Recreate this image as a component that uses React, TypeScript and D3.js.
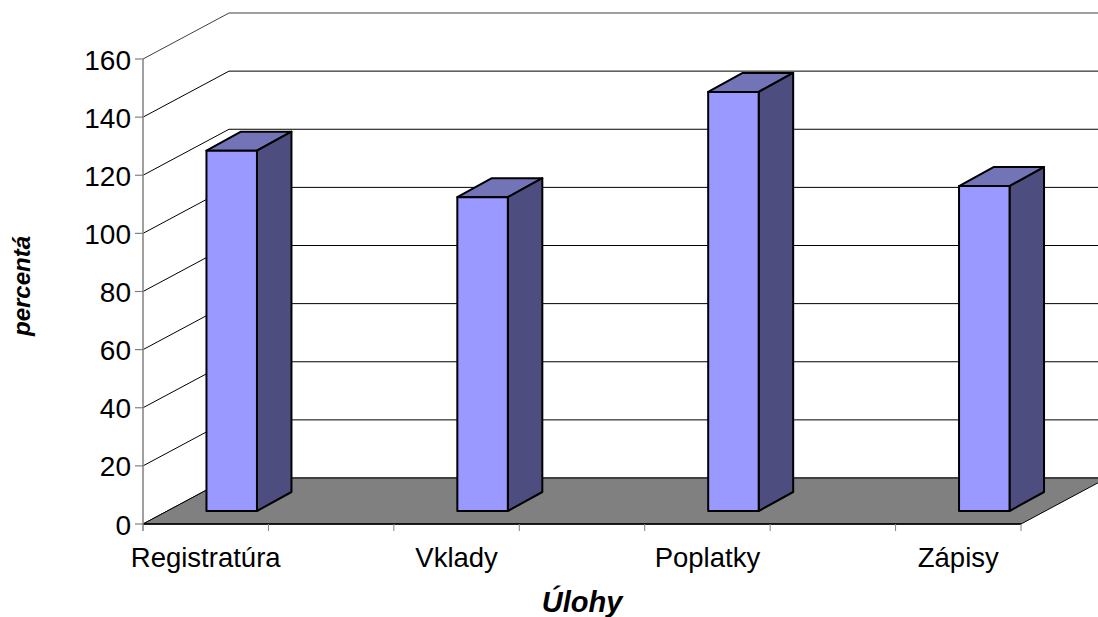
import React from "react";
import * as d3 from "d3";

const categories = ["Registratúra", "Vklady", "Poplatky", "Zápisy"];
const values = [124, 108, 144.2, 111.8];
const yTicks = [0, 20, 40, 60, 80, 100, 120, 140, 160];
const slots = [0, 1, 2, 3, 4, 5, 6];

const FONT = "'Liberation Sans', Arial, sans-serif";

export default function App() {
  const W = 1098, H = 617;
  const x0 = 143, x1 = 1021, yB = 524, yT = 59;
  const DX = 86, DY = 46;
  const y = d3.scaleLinear().domain([0, 160]).range([yB, yT]);
  const band = d3.scaleBand<number>().domain(slots).range([x0, x1]);
  const barW = 50.5, barDx = 26, barDy = 13, sideX = 34.5, sideY = 19;
  const pts = (a: number[][]) => a.map((p) => p.join(",")).join(" ");

  return (
    <svg width={W} height={H} style={{ position: "absolute", left: 0, top: 0, background: "#fff" }}>
      {/* wall gridlines */}
      {yTicks.map((t) => (
        <polyline
          key={t}
          points={pts([[x0, y(t)], [x0 + DX, y(t) - DY], [W + 20, y(t) - DY]])}
          fill="none"
          stroke={t === 160 ? "#404040" : "#000"}
          strokeWidth={1}
        />
      ))}
      {/* floor */}
      <polygon
        points={pts([[x0, yB], [x1, yB], [x1 + DX, yB - DY], [x0 + DX, yB - DY]])}
        fill="#808080"
        stroke="#000"
        strokeWidth={1}
      />
      <line x1={x0} x2={x1} y1={yB} y2={yB} stroke="#000" strokeWidth={1.5} />
      {/* y axis */}
      <line x1={x0} x2={x0} y1={yT} y2={yB + 7} stroke="#808080" strokeWidth={1.5} />
      {yTicks.map((t) => (
        <g key={t}>
          <line x1={x0 - 8} x2={x0} y1={y(t)} y2={y(t)} stroke="#808080" strokeWidth={1.2} />
          <text x={x0 - 12} y={y(t) + 10.5} textAnchor="end" fontFamily={FONT} fontSize={28} fill="#000">
            {t}
          </text>
        </g>
      ))}
      {/* x ticks */}
      {slots.map((s) => (
        <line
          key={s}
          x1={(band(s) as number) + band.bandwidth()}
          x2={(band(s) as number) + band.bandwidth()}
          y1={yB}
          y2={yB + 7}
          stroke="#808080"
          strokeWidth={1}
        />
      ))}
      {/* bars */}
      {categories.map((c, i) => {
        const cx = (band(i * 2) as number) + band.bandwidth() / 2;
        const l = cx + barDx - barW / 2;
        const r = l + barW;
        const b = yB - barDy;
        const t = y(values[i]) - barDy;
        return (
          <g key={c} stroke="#000" strokeWidth={2} strokeLinejoin="round">
            <polygon points={pts([[l, t], [r, t], [r + sideX, t - sideY], [l + sideX, t - sideY]])} fill="#7373b8" />
            <polygon points={pts([[r, t], [r + sideX, t - sideY], [r + sideX, b - sideY], [r, b]])} fill="#4d4d80" />
            <rect x={l} y={t} width={barW} height={b - t} fill="#9999ff" />
          </g>
        );
      })}
      {/* category labels */}
      {categories.map((c, i) => (
        <text
          key={c}
          x={(band(i * 2) as number) + band.bandwidth() / 2}
          y={567}
          textAnchor="middle"
          fontFamily={FONT}
          fontSize={27.5}
          fill="#000"
        >
          {c}
        </text>
      ))}
      <text x={582} y={612} textAnchor="middle" fontFamily={FONT} fontSize={29} fontWeight="bold" fontStyle="italic">
        Úlohy
      </text>
      <text
        transform="translate(30,286) rotate(-90)"
        textAnchor="middle"
        fontFamily={FONT}
        fontSize={24}
        fontWeight="bold"
        fontStyle="italic"
      >
        percentá
      </text>
    </svg>
  );
}
